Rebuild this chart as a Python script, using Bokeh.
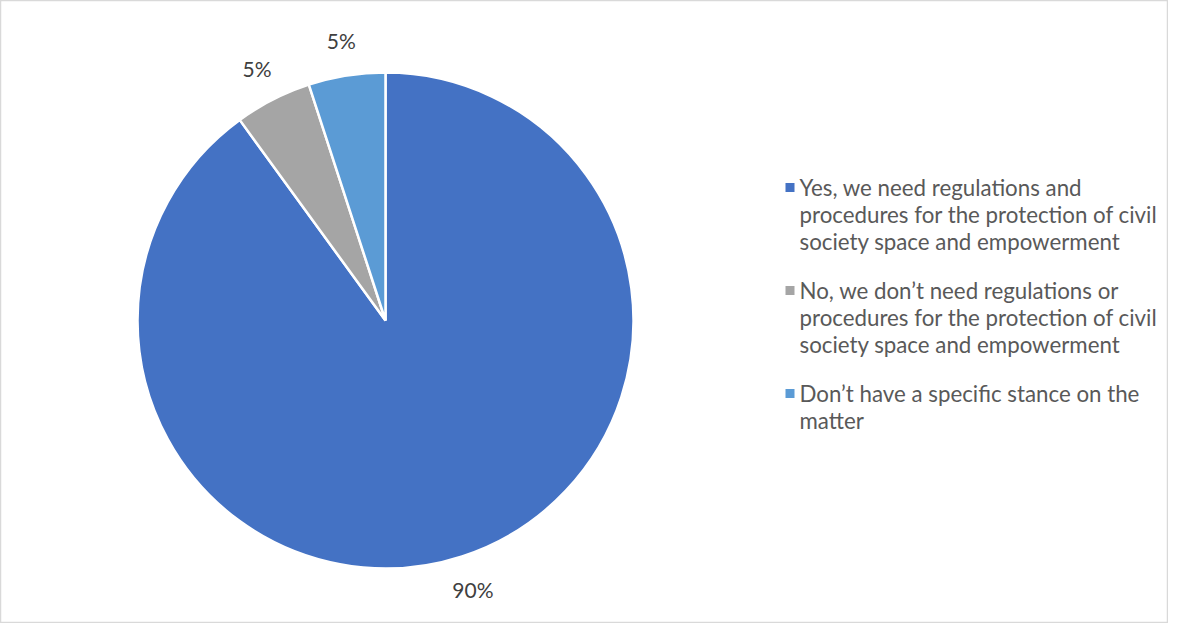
import numpy as np
from bokeh.plotting import figure
from bokeh.models import ColumnDataSource, Range1d
from bokeh.core.properties import value
from bokeh.embed import file_html
from bokeh.resources import INLINE

# ---- data ----
categories = [
    "Yes, we need regulations and\nprocedures for the protection of civil\nsociety space and empowerment",
    "No, we don\u2019t need regulations or\nprocedures for the protection of civil\nsociety space and empowerment",
    "Don\u2019t have a specific stance on the\nmatter",
]
shares = [90, 5, 5]
labels = ["90%", "5%", "5%"]
colors = ["#4472C4", "#A5A5A5", "#5B9BD5"]

# ---- layout ----
W, H = 1168, 623
CX, CY = 385, H - 320
R = 248
FONT = "Lato"

p = figure(width=W, height=H, x_range=Range1d(0, W), y_range=Range1d(0, H),
           output_backend="svg", toolbar_location=None, min_border=0)
p.axis.visible = False
p.grid.visible = False
p.outline_line_color = "#D9D9D9"
p.outline_line_width = 1.5
p.background_fill_color = "white"
p.border_fill_color = "white"

vals = np.array(shares, dtype=float)
frac = vals / vals.sum()
ends = np.cumsum(frac) * 2 * np.pi
starts = ends - frac * 2 * np.pi
# clockwise from 12 o'clock
start_ang = np.pi / 2 - starts
end_ang = np.pi / 2 - ends
mid = (start_ang + end_ang) / 2

src = ColumnDataSource(dict(start=start_ang, end=end_ang, color=colors,
                            x=[CX] * 3, y=[CY] * 3))
p.wedge(x="x", y="y", radius=R, start_angle="start", end_angle="end",
        direction="clock", fill_color="color", line_color="white",
        line_width=2.5, source=src)

LR = 283
lsrc = ColumnDataSource(dict(x=CX + LR * np.cos(mid), y=CY + LR * np.sin(mid), t=labels))
p.text(x="x", y="y", text="t", source=lsrc, text_align="center",
       text_baseline="middle", text_font=value(FONT), text_font_size="21px",
       text_color="#404040")

# legend
lx, ly, lt, sx, sy, sc = [], [], [], [], [], []
y = H - 187
for cat, col in zip(categories, colors):
    lines = cat.split("\n")
    sx.append(789.5); sy.append(y); sc.append(col)
    for ln in lines:
        lx.append(799); ly.append(y); lt.append(ln)
        y -= 27
    y -= 22
p.scatter(x=sx, y=sy, marker="square", size=9, fill_color=sc, line_color=None)
p.text(x=lx, y=ly, text=lt, text_align="left", text_baseline="middle",
       text_font=value(FONT), text_font_size="22.3px", text_color="#595959")

open("out.html", "w").write(file_html(p, INLINE))
